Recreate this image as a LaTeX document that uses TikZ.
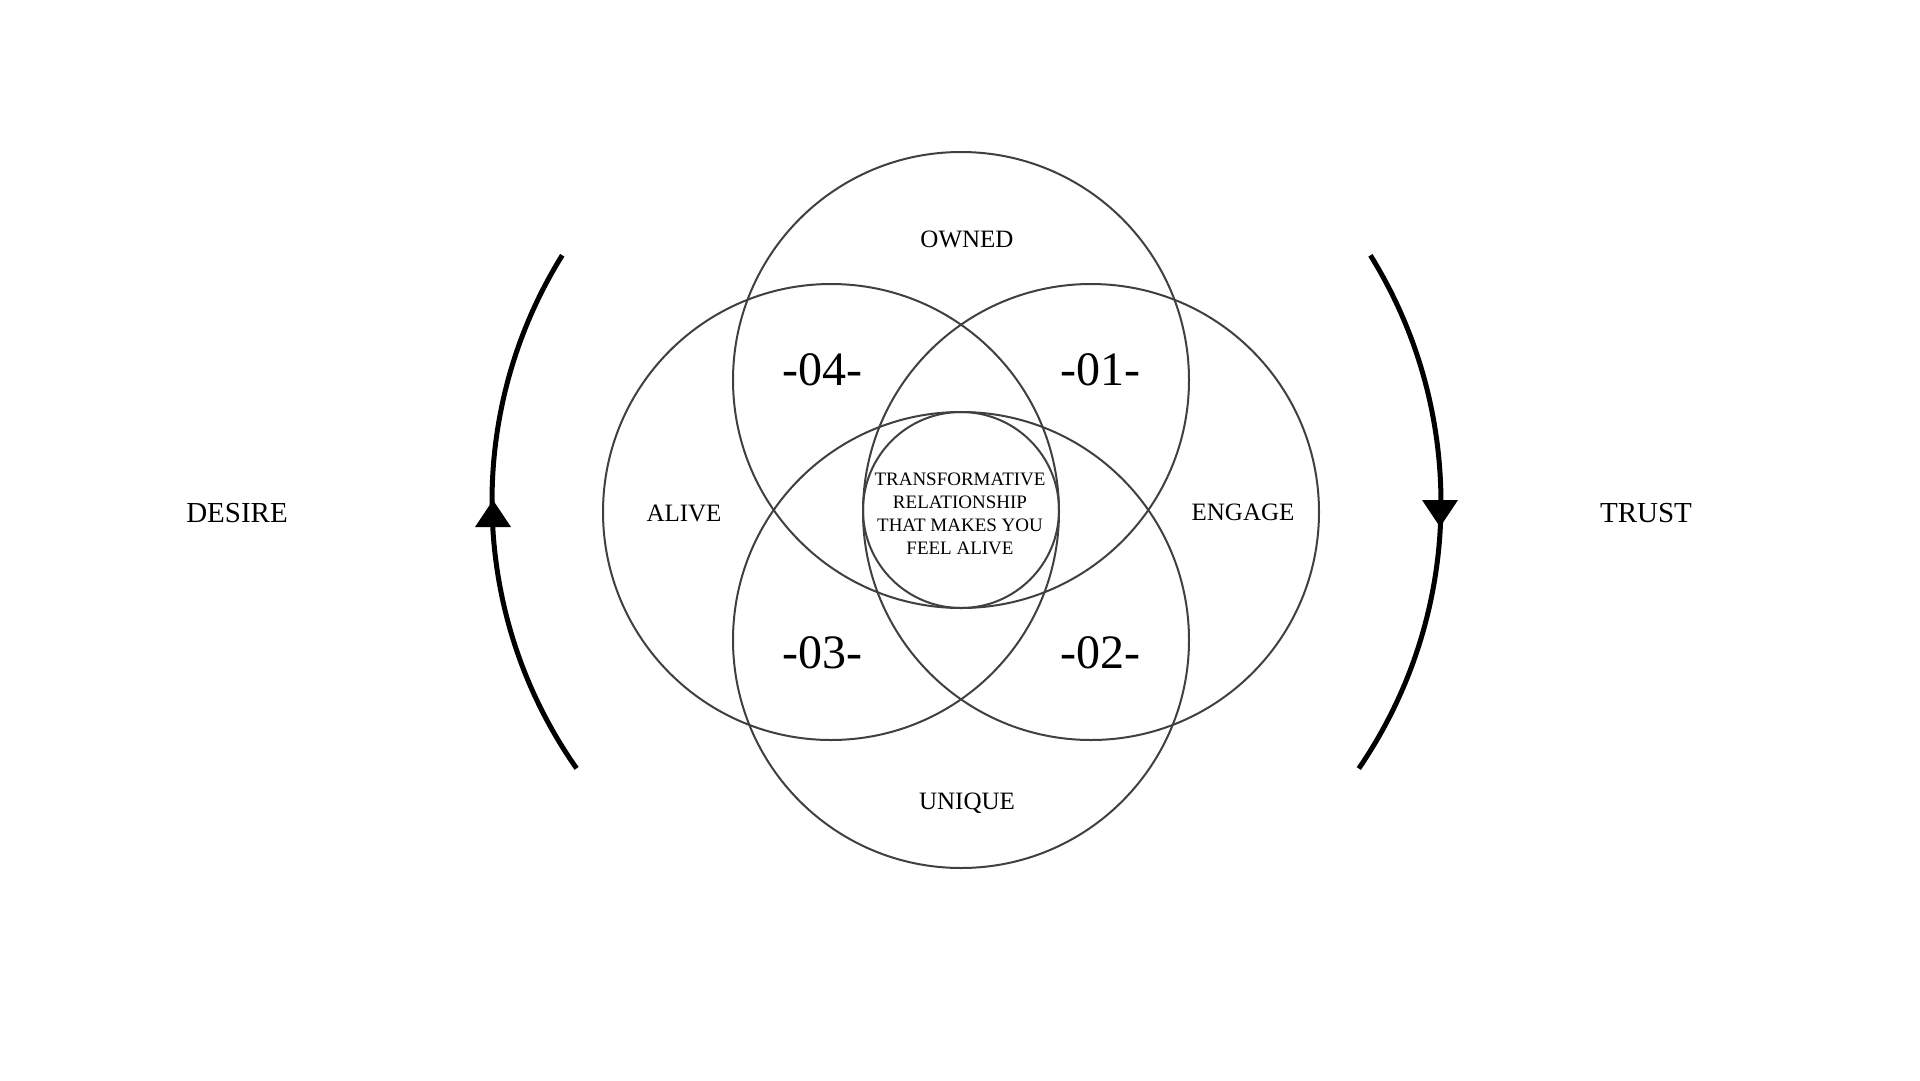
\documentclass[tikz,border=0pt]{standalone}
\usepackage{fontspec}
\setmainfont{Liberation Serif}
\begin{document}
\begin{tikzpicture}[x=1pt,y=-1pt,
  ring/.style={draw=black!75, line width=2pt},
  flow/.style={draw=black, line width=5pt},
  tip/.style={fill=black},
  lbl/.style={font=\fontsize{25}{30}\selectfont, inner sep=0pt},
  num/.style={font=\fontsize{48}{56}\selectfont, inner sep=0pt},
  side/.style={font=\fontsize{29}{34}\selectfont, inner sep=0pt},
  core/.style={font=\fontsize{19}{23}\selectfont, align=center, inner sep=0pt}]
\useasboundingbox[fill=white] (0,0) rectangle (1920,1080);
% circles
\draw[ring] (961,380) circle[radius=228];
\draw[ring] (831,512) circle[radius=228];
\draw[ring] (1091,512) circle[radius=228];
\draw[ring] (961,640) circle[radius=228];
\draw[ring] (961,510) circle[radius=98];
% side arcs (y axis points down, so angles run clockwise)
\draw[flow] (957,501) ++(-148.1:465) arc[start angle=-148.1, end angle=-215.1, radius=465];
\draw[flow] (971,503) ++(-31.8:470) arc[start angle=-31.8, end angle=34.4, radius=470];
\fill[tip] (493,500) -- (511,527) -- (475,527) -- cycle;
\fill[tip] (1440,527) -- (1458,500) -- (1422,500) -- cycle;
% labels
\node[lbl] (owned) at (967,239) {OWNED};
\node[lbl] (unique) at (967,803) {UNIQUE};
\node[lbl] (alive) at (684,513) {ALIVE};
\node[lbl] (engage) at (1243,512) {ENGAGE};
\node[num] (n4) at (822,370) {-04-};
\node[num] (n1) at (1100,370) {-01-};
\node[num] (n3) at (822,653) {-03-};
\node[num] (n2) at (1100,653) {-02-};
\node[core] (center) at (960,514) {TRANSFORMATIVE\\RELATIONSHIP\\THAT MAKES YOU\\FEEL ALIVE};
\node[side] (desire) at (237,513) {DESIRE};
\node[side] (trust) at (1646,513) {TRUST};
\end{tikzpicture}
\end{document}
